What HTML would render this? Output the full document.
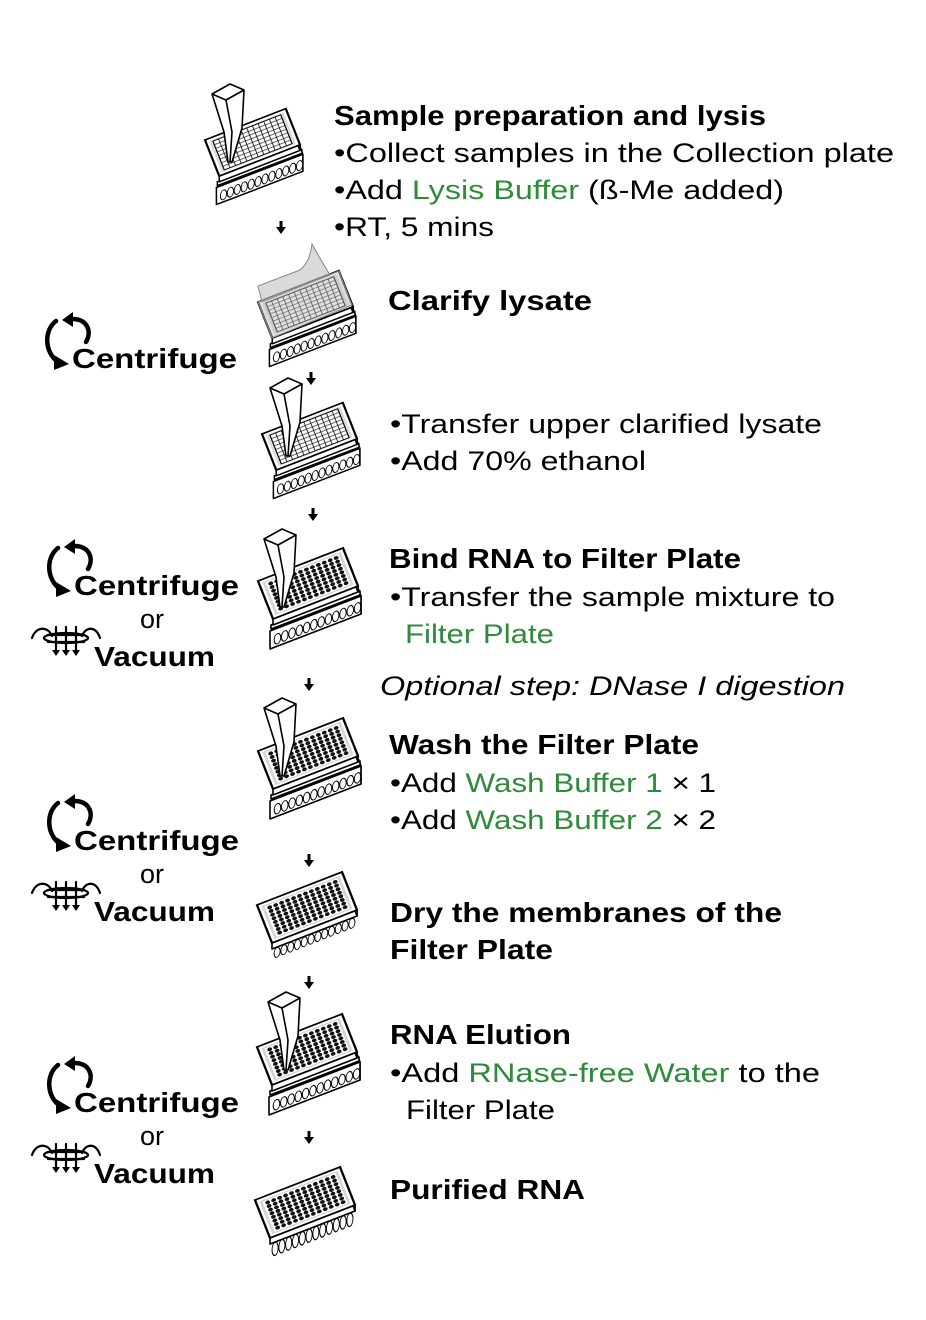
<!DOCTYPE html>
<html><head><meta charset="utf-8"><style>
html,body{margin:0;padding:0;background:#fff;}
svg{display:block;}
text{font-family:"Liberation Sans",sans-serif;fill:#000;}
.b{font-weight:bold;font-size:28px;}
.r{font-size:27px;}
.g{fill:#2e8b3a;}
</style></head><body>
<svg width="926" height="1320" viewBox="0 0 926 1320" xmlns="http://www.w3.org/2000/svg">
<defs>
  <pattern id="gridpat" width="7" height="6" patternUnits="userSpaceOnUse" x="8" y="6">
    <rect width="7" height="6" fill="none" stroke="#000" stroke-width="0.9"/>
  </pattern>
  <g id="tubes" fill="none" stroke="#000" stroke-width="1.1">
    <ellipse cx="6" cy="8" rx="3.6" ry="6"/><ellipse cx="14" cy="8" rx="3.6" ry="6"/><ellipse cx="22" cy="8" rx="3.6" ry="6"/><ellipse cx="30" cy="8" rx="3.6" ry="6"/><ellipse cx="38" cy="8" rx="3.6" ry="6"/><ellipse cx="46" cy="8" rx="3.6" ry="6"/><ellipse cx="54" cy="8" rx="3.6" ry="6"/><ellipse cx="62" cy="8" rx="3.6" ry="6"/><ellipse cx="70" cy="8" rx="3.6" ry="6"/><ellipse cx="78" cy="8" rx="3.6" ry="6"/><ellipse cx="86" cy="8" rx="3.6" ry="6"/><ellipse cx="94" cy="8" rx="3.6" ry="6"/>
  </g>
  <g id="dots" fill="#111">
    <g id="drow">
      <circle cx="12" cy="10" r="2.7"/><circle cx="19" cy="10" r="2.7"/><circle cx="26" cy="10" r="2.7"/><circle cx="33" cy="10" r="2.7"/><circle cx="40" cy="10" r="2.7"/><circle cx="47" cy="10" r="2.7"/><circle cx="54" cy="10" r="2.7"/><circle cx="61" cy="10" r="2.7"/><circle cx="68" cy="10" r="2.7"/><circle cx="75" cy="10" r="2.7"/><circle cx="82" cy="10" r="2.7"/><circle cx="89" cy="10" r="2.7"/>
    </g>
    <use href="#drow" y="5.7"/><use href="#drow" y="11.4"/><use href="#drow" y="17.1"/><use href="#drow" y="22.8"/><use href="#drow" y="28.5"/><use href="#drow" y="34.2"/><use href="#drow" y="39.9"/>
  </g>
  <g id="lower" stroke="#000" stroke-width="1.6" fill="#fff" stroke-linejoin="round">
    <polygon points="103,15 92,-15 92,3 103,33"/>
    <polygon points="12,50 103,15 103,33 12,68"/>
    <g transform="matrix(0.91,-0.35,0,0.85,14,53)"><use href="#tubes"/></g>
    <polygon points="13,44 102,10 102,14 13,48"/>
  </g>
  <g id="faces">
    <polygon points="15,38 100,5 100,11 15,44" fill="#fff" stroke="#000" stroke-width="1.6" stroke-linejoin="round"/>
    <polygon points="100,5 85,-33 85,-27 100,11" fill="#fff" stroke="#000" stroke-width="1.6" stroke-linejoin="round"/>
  </g>
  <g id="topgrid">
    <use href="#faces"/>
    <g transform="matrix(0.85,-0.33,0.25,0.633,0,0)">
      <rect x="0" y="0" width="100" height="60" fill="#fff" stroke="#000" stroke-width="2.5"/>
      <rect x="4" y="4" width="92" height="52" fill="#ddd"/>
      <rect x="8" y="6" width="84" height="48" fill="#fff" stroke="#000" stroke-width="1.3"/>
      <rect x="8" y="6" width="84" height="48" fill="url(#gridpat)"/>
    </g>
  </g>
  <g id="topdark">
    <use href="#faces"/>
    <g transform="matrix(0.85,-0.33,0.25,0.633,0,0)">
      <rect x="0" y="0" width="100" height="60" fill="#fff" stroke="#000" stroke-width="2.5"/>
      <rect x="4" y="4" width="92" height="52" fill="#d6d6d6"/>
      <rect x="7" y="6" width="86" height="48" fill="#fff"/>
      <use href="#dots"/>
    </g>
  </g>
  <g id="pip" fill="#fff" stroke="#000" stroke-width="1.6" stroke-linejoin="round">
    <polygon points="0,10 18,0 32,6 30,44 20,78 16,78 12,48"/>
    <polyline points="0,10 14,16 32,6" fill="none"/>
    <polyline points="14,16 20,48 18,78" fill="none"/>
  </g>
  <g id="stackgrid"><use href="#lower"/><use href="#topgrid"/></g>
  <g id="stackdark"><use href="#lower"/><use href="#topdark"/></g>
  <g id="arrow"><rect x="-1.5" y="-8" width="3" height="7"/><polygon points="-5,-2 5,-2 0,5"/></g>
  <g id="cent" fill="none" stroke="#000" stroke-width="4.5" stroke-linecap="round">
    <path d="M14,5 C2,14 2,36 16,46"/>
    <polygon points="12,39 27,48 12,54" fill="#000" stroke="none"/>
    <path d="M30,3 C46,3 50,16 44,26"/>
    <polygon points="20,4 31,-4 31,11" fill="#000" stroke="none"/>
  </g>
  <g id="vac" fill="none" stroke="#000" stroke-width="2.2" stroke-linecap="round">
    <path d="M2,14 C6,2 18,2 22,12"/>
    <path d="M52,12 C56,2 66,2 70,14"/>
    <ellipse cx="36" cy="14" rx="22" ry="5"/>
    <line x1="26" y1="3" x2="26" y2="28"/><line x1="36" y1="3" x2="36" y2="28"/><line x1="46" y1="3" x2="46" y2="28"/>
    <line x1="18" y1="11" x2="54" y2="11"/><line x1="18" y1="18" x2="54" y2="18"/>
    <polygon points="22,26 30,26 26,32" fill="#000" stroke="none"/>
    <polygon points="32,26 40,26 36,32" fill="#000" stroke="none"/>
    <polygon points="42,26 50,26 46,32" fill="#000" stroke="none"/>
  </g>
</defs>

<!-- Plates -->
<use href="#stackgrid" transform="translate(205,140) scale(0.95)"/>
<use href="#pip" transform="translate(212,84)"/>

<use href="#stackgrid" transform="translate(258,302) scale(0.95)"/>
<path d="M262,302 L330,275 Q322,262 312,244 Q310,262 300,270 L258,286 Z" fill="#bbb" fill-opacity="0.55" stroke="#888" stroke-width="1"/>
<path d="M258,302 L339,271 L352,305 L272,338 Z" fill="#bbb" fill-opacity="0.45" stroke="#888" stroke-width="1"/>

<use href="#stackgrid" transform="translate(262,434) scale(0.95)"/>
<use href="#pip" transform="translate(270,378)"/>

<use href="#stackdark" transform="translate(258,581)"/>
<use href="#pip" transform="translate(264,529)"/>

<use href="#stackdark" transform="translate(258,751)"/>
<use href="#pip" transform="translate(264,698)"/>

<g transform="translate(257,905)">
  <g transform="matrix(0.85,-0.33,0,0.8,15,43)"><use href="#tubes"/></g>
  <use href="#topdark"/>
</g>

<use href="#stackdark" transform="translate(257,1047)"/>
<use href="#pip" transform="translate(268,992)"/>

<g transform="translate(255,1200)">
  <g transform="matrix(0.85,-0.33,0,1.1,15,42)"><use href="#tubes"/></g>
  <use href="#topdark"/>
</g>

<!-- arrows -->
<use href="#arrow" x="281" y="229"/>
<use href="#arrow" x="311" y="380"/>
<use href="#arrow" x="313" y="516"/>
<use href="#arrow" x="309" y="686"/>
<use href="#arrow" x="309" y="862"/>
<use href="#arrow" x="309" y="984"/>
<use href="#arrow" x="309" y="1139"/>

<!-- left side icons -->
<use href="#cent" x="42" y="316"/>
<text class="b" x="72" y="368" textLength="165" lengthAdjust="spacingAndGlyphs">Centrifuge</text>

<use href="#cent" x="44" y="543"/>
<text class="b" x="74" y="595" textLength="165" lengthAdjust="spacingAndGlyphs">Centrifuge</text>
<text class="r" x="140" y="628">or</text>
<use href="#vac" x="30" y="624"/>
<text class="b" x="94" y="666" textLength="121" lengthAdjust="spacingAndGlyphs">Vacuum</text>

<use href="#cent" x="44" y="798"/>
<text class="b" x="74" y="850" textLength="165" lengthAdjust="spacingAndGlyphs">Centrifuge</text>
<text class="r" x="140" y="883">or</text>
<use href="#vac" x="30" y="879"/>
<text class="b" x="94" y="921" textLength="121" lengthAdjust="spacingAndGlyphs">Vacuum</text>

<use href="#cent" x="44" y="1060"/>
<text class="b" x="74" y="1112" textLength="165" lengthAdjust="spacingAndGlyphs">Centrifuge</text>
<text class="r" x="140" y="1145">or</text>
<use href="#vac" x="30" y="1141"/>
<text class="b" x="94" y="1183" textLength="121" lengthAdjust="spacingAndGlyphs">Vacuum</text>

<!-- right text -->
<text class="b" x="334" y="125" textLength="432" lengthAdjust="spacingAndGlyphs">Sample preparation and lysis</text>
<text class="r" x="334" y="162" textLength="560" lengthAdjust="spacingAndGlyphs">•Collect samples in the Collection plate</text>
<text class="r" x="334" y="199" textLength="450" lengthAdjust="spacingAndGlyphs">•Add <tspan class="g">Lysis Buffer</tspan> (ß-Me added)</text>
<text class="r" x="334" y="236" textLength="160" lengthAdjust="spacingAndGlyphs">•RT, 5 mins</text>

<text class="b" x="388" y="310" textLength="204" lengthAdjust="spacingAndGlyphs">Clarify lysate</text>

<text class="r" x="390" y="433" textLength="432" lengthAdjust="spacingAndGlyphs">•Transfer upper clarified lysate</text>
<text class="r" x="390" y="470" textLength="256" lengthAdjust="spacingAndGlyphs">•Add 70% ethanol</text>

<text class="b" x="389" y="568" textLength="352" lengthAdjust="spacingAndGlyphs">Bind RNA to Filter Plate</text>
<text class="r" x="390" y="606" textLength="445" lengthAdjust="spacingAndGlyphs">•Transfer the sample mixture to</text>
<text class="r g" x="405" y="643" textLength="149" lengthAdjust="spacingAndGlyphs">Filter Plate</text>

<text class="r" x="380" y="695" font-style="italic" textLength="465" lengthAdjust="spacingAndGlyphs">Optional step: DNase I digestion</text>

<text class="b" x="389" y="754" textLength="310" lengthAdjust="spacingAndGlyphs">Wash the Filter Plate</text>
<text class="r" x="390" y="792" textLength="326" lengthAdjust="spacingAndGlyphs">•Add <tspan class="g">Wash Buffer 1</tspan> × 1</text>
<text class="r" x="390" y="829" textLength="326" lengthAdjust="spacingAndGlyphs">•Add <tspan class="g">Wash Buffer 2</tspan> × 2</text>

<text class="b" x="390" y="922" textLength="392" lengthAdjust="spacingAndGlyphs">Dry the membranes of the</text>
<text class="b" x="390" y="959" textLength="163" lengthAdjust="spacingAndGlyphs">Filter Plate</text>

<text class="b" x="390" y="1044" textLength="181" lengthAdjust="spacingAndGlyphs">RNA Elution</text>
<text class="r" x="390" y="1082" textLength="430" lengthAdjust="spacingAndGlyphs">•Add <tspan class="g">RNase-free Water</tspan> to the</text>
<text class="r" x="406" y="1119" textLength="149" lengthAdjust="spacingAndGlyphs">Filter Plate</text>

<text class="b" x="390" y="1199" textLength="195" lengthAdjust="spacingAndGlyphs">Purified RNA</text>
</svg>
</body></html>
